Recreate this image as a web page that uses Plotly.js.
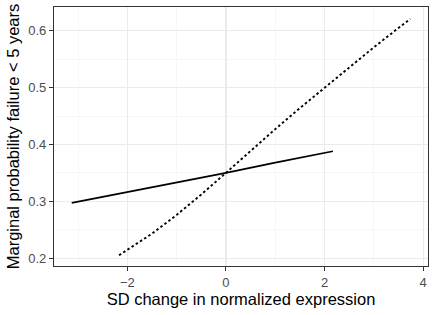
<!DOCTYPE html>
<html>
<head>
<meta charset="utf-8">
<script src="https://cdn.plot.ly/plotly-3.0.1.min.js"></script>
<style>html,body{margin:0;padding:0;background:#fff;}#chart{width:436px;height:315px;}</style>
</head>
<body>
<div id="chart"></div>
<script>
// Solid series
var solidX = [-3.13, -2, -1, 0, 1, 2.17];
var solidY = [0.297, 0.316, 0.333, 0.350, 0.368, 0.388];
// Dotted series
var dotX = [-2.17, -1.5, -1, -0.5, 0, 0.5, 1, 1.5, 2, 2.5, 3, 3.5, 3.74];
var dotY = [0.205, 0.243, 0.276, 0.312, 0.350, 0.389, 0.427, 0.464, 0.500, 0.536, 0.571, 0.605, 0.621];
var xTicks = [-2, 0, 2, 4];
var xTickLabels = ['\u22122', '0', '2', '4'];
var yTicks = [0.2, 0.3, 0.4, 0.5, 0.6];
var yTickLabels = ['0.2', '0.3', '0.4', '0.5', '0.6'];

var FONT = 'Liberation Sans, Arial, sans-serif';
var traces = [
  {x: solidX, y: solidY, type: 'scatter', mode: 'lines', line: {color: '#000', width: 1.7}, hoverinfo: 'skip'},
  {x: dotX, y: dotY, type: 'scatter', mode: 'lines', line: {color: '#000', width: 1.9, dash: '2.5px,2.5px'}, hoverinfo: 'skip'}
];
var axisCommon = {
  showline: true, mirror: true, linecolor: '#333333', linewidth: 1.1,
  ticks: 'outside', ticklen: 4, tickcolor: '#333333', tickwidth: 1,
  showgrid: true, gridcolor: '#EBEBEB', gridwidth: 1.1,
  zeroline: false,
  tickfont: {family: FONT, size: 13, color: '#4D4D4D'}
};
var layout = {
  width: 436, height: 315,
  margin: {l: 54, r: 8, t: 7, b: 49},
  paper_bgcolor: '#fff', plot_bgcolor: '#fff',
  showlegend: false,
  xaxis: Object.assign({}, axisCommon, {
    range: [-3.49, 4.10], tickvals: xTicks, ticktext: xTickLabels,
    minor: {dtick: 1, tick0: 1, showgrid: true, gridcolor: '#F2F2F2', gridwidth: 0.6, ticks: ''},
    title: {text: 'SD change in normalized expression', font: {family: FONT, size: 16.5, color: '#000'}, standoff: 3}
  }),
  yaxis: Object.assign({}, axisCommon, {
    range: [0.186, 0.642], tickvals: yTicks, ticktext: yTickLabels,
    minor: {dtick: 0.05, tick0: 0.25, showgrid: true, gridcolor: '#F2F2F2', gridwidth: 0.6, ticks: ''},
    title: {text: 'Marginal probability failure < 5 years', font: {family: FONT, size: 16.5, color: '#000'}, standoff: 4}
  })
};
Plotly.newPlot('chart', traces, layout, {staticPlot: true, displayModeBar: false});
</script>
</body>
</html>
